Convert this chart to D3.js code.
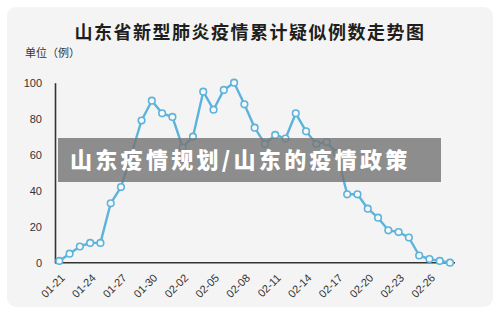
<!DOCTYPE html>
<html><head><meta charset="utf-8">
<script src="https://cdn.jsdelivr.net/npm/d3@7"></script>
<style>
html,body{margin:0;padding:0;background:#fff;}
svg{display:block;}
</style></head>
<body>
<svg id="c" width="500" height="321"></svg>
<script>
const title = "山东省新型肺炎疫情累计疑似例数走势图";
const unitLabel = "单位（例）";
const bannerText = "山东疫情规划/山东的疫情政策";
const dates = ["01-21","01-22","01-23","01-24","01-25","01-26","01-27","01-28","01-29","01-30","01-31",
  "02-01","02-02","02-03","02-04","02-05","02-06","02-07","02-08","02-09","02-10","02-11","02-12","02-13",
  "02-14","02-15","02-16","02-17","02-18","02-19","02-20","02-21","02-22","02-23","02-24","02-25","02-26","02-27","02-28"];
const values = [1,5,9,11,11,33,42,60,79,90,83,81,64,70,95,85,96,100,88,75,66,71,69,83,73,66,67,61,38,38,30,25,18,17,14,4,2,1,0];
const yTicks = [0,20,40,60,80,100];
const xTickLabels = ["01-21","01-24","01-27","01-30","02-02","02-05","02-08","02-11","02-14","02-17","02-20","02-23","02-26"];

const svg = d3.select("#c");
const latin = "Helvetica, Arial, 'Liberation Sans', 'Noto Sans CJK SC', sans-serif";
const cjk = "'Noto Sans CJK SC', sans-serif";

// card
svg.append("rect").attr("x",7).attr("y",7).attr("width",486).attr("height",300).attr("rx",9)
  .attr("fill","#f4f4f4");

svg.append("text").attr("x",250).attr("y",39).attr("text-anchor","middle")
  .attr("font-family",cjk).attr("font-size",18).attr("font-weight",700).attr("letter-spacing",1.5)
  .attr("fill","#1e1e1e").text(title);

svg.append("text").attr("x",25).attr("y",57)
  .attr("font-family",cjk).attr("font-size",11).attr("fill","#333").text(unitLabel);

const x = d3.scalePoint().domain(dates).range([59.3,450]);
const y = d3.scaleLinear().domain([0,100]).range([262.7,82.7]);

// y axis
const yAxis = svg.append("g").attr("transform","translate(55,0)")
  .call(d3.axisLeft(y).tickValues(yTicks).tickSize(0).tickPadding(13));
yAxis.select(".domain").attr("stroke","#333").attr("stroke-width",1.6);
yAxis.selectAll("text").attr("font-family",latin).attr("font-size",11).attr("fill","#333");

// x axis
const xAxis = svg.append("g").attr("transform","translate(0,262.7)")
  .call(d3.axisBottom(x).tickValues(xTickLabels).tickSize(0));
xAxis.select(".domain").attr("d","M55,0H455").attr("stroke","#333").attr("stroke-width",1.4);
xAxis.selectAll("text").attr("font-family",latin).attr("font-size",11).attr("fill","#333")
  .attr("text-anchor","end").attr("dy","0.35em")
  .attr("transform","translate(1,11) rotate(-45)");

// line
const line = d3.line().x((d,i)=>x(dates[i])).y(d=>y(d));
svg.append("path").datum(values).attr("d",line).attr("fill","none")
  .attr("stroke","#5cb3db").attr("stroke-width",2.4).attr("stroke-linejoin","round");
svg.selectAll("circle.pt").data(values).join("circle").attr("class","pt")
  .attr("cx",(d,i)=>x(dates[i])).attr("cy",d=>y(d)).attr("r",3.3)
  .attr("fill","#f8f8f8").attr("stroke","#5cb3db").attr("stroke-width",1.6);

// banner overlay
svg.append("rect").attr("x",58).attr("y",138).attr("width",383).attr("height",44)
  .attr("fill","rgba(118,118,118,0.82)");
svg.append("text").attr("x",70).attr("y",168)
  .attr("font-family",cjk).attr("font-size",22).attr("font-weight",900).attr("letter-spacing",3.3)
  .attr("fill","#fff").text(bannerText);
</script>
</body></html>
